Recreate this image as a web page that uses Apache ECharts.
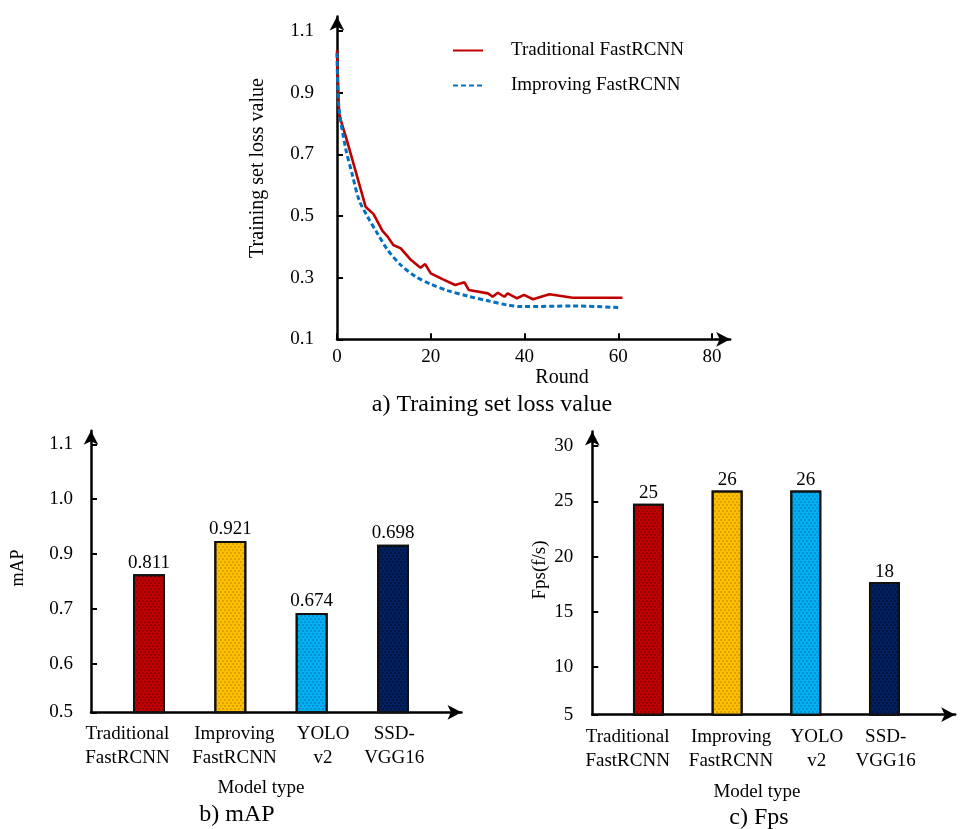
<!DOCTYPE html>
<html><head><meta charset="utf-8">
<script src="https://cdn.jsdelivr.net/npm/echarts@6/dist/echarts.min.js"></script>
<style>html,body{margin:0;padding:0;background:#fff}#c{width:976px;height:829px}</style>
</head><body><div id="c"></div>
<script>
// ---- a) Training set loss value ----
const seriesNames = ['Traditional FastRCNN', 'Improving FastRCNN'];
const tradRound = [0, 0.43, 0.8, 2.1, 6.1, 7.8, 9.7, 10.8, 12.0, 13.6, 15.8, 17.8, 18.8, 20.0, 22.5, 25.2, 27.2, 28.1, 32.2, 33.2, 34.3, 35.7, 36.4, 38.4, 39.9, 41.8, 45.3, 50.3, 60.9];
const tradLoss  = [1.038, 0.833, 0.811, 0.746, 0.530, 0.506, 0.452, 0.433, 0.406, 0.395, 0.357, 0.332, 0.344, 0.314, 0.295, 0.276, 0.285, 0.260, 0.249, 0.238, 0.251, 0.238, 0.249, 0.233, 0.244, 0.230, 0.246, 0.235, 0.235];
const impRound  = [0, 0.4, 1.8, 3.3, 4.7, 6.5, 8.6, 10.8, 13.6, 16.8, 20.0, 23.6, 27.9, 32.2, 36.4, 39.3, 50.3, 60.3];
const impLoss   = [1.028, 0.854, 0.722, 0.632, 0.552, 0.498, 0.444, 0.390, 0.341, 0.303, 0.279, 0.258, 0.240, 0.225, 0.211, 0.206, 0.208, 0.203];
const lossXTicks = [0, 20, 40, 60, 80];
const lossYTicks = [0.1, 0.3, 0.5, 0.7, 0.9, 1.1];

// ---- b) mAP and c) Fps ----
const models = ['Traditional\nFastRCNN', 'Improving\nFastRCNN', 'YOLO\nv2', 'SSD-\nVGG16'];
const mapBarValues = [0.827, 0.924, 0.693, 0.917];     // bar heights read on the drawn axis
const mapBarLabels = ['0.811', '0.921', '0.674', '0.698']; // printed labels
const mapTicks = [0.5, 0.6, 0.7, 0.9, 1.0, 1.1];        // tick labels (evenly spaced)
const fpsValues = [24.8, 26.0, 26.0, 17.7];
const fpsTicks = [5, 10, 15, 20, 25, 30];

// ---- styles ----
const FONT = 'Liberation Serif, "Times New Roman", serif';
const barColors = ['#c00000', '#ffc000', '#00b0f0', '#002060'];
const dotColors = ['rgba(90,0,0,0.55)', 'rgba(170,110,0,0.5)', 'rgba(0,90,160,0.45)', 'rgba(0,0,20,0.5)'];
const labelShift = [-0.265, 0.05, 0.14, 0.015];

// mAP axis is drawn with evenly spaced tick labels; map a value onto tick-index units
function mapToIdx(v) {
  for (let i = 0; i < mapTicks.length - 1; i++) {
    if (v <= mapTicks[i + 1]) return i + (v - mapTicks[i]) / (mapTicks[i + 1] - mapTicks[i]);
  }
  return mapTicks.length - 1;
}

const axisLineStyle = { color: '#000', width: 2.5 };
const arrow = { show: true, onZero: false, symbol: ['none', 'arrow'], symbolSize: [11, 14], lineStyle: axisLineStyle };
const tickStyle = { show: true, inside: true, length: 6, lineStyle: { color: '#000', width: 2 } };
const lab = { fontFamily: FONT, fontSize: 19, color: '#000' };

function decal(i) {
  return { symbol: 'circle', symbolSize: 1, dashArrayX: [[2, 2], [0, 2, 2, 0]], dashArrayY: [2, 1], color: dotColors[i], rotation: 0 };
}

const MAP_MIN = 0.12, MAP_MAX = 5.246;
const FPS_MIN = 5.70, FPS_MAX = 31.33;

const option = {
  backgroundColor: '#fff',
  animation: false,
  grid: [
    { left: 337, top: 16.5, width: 393.2, height: 322.8 },
    { left: 91, top: 430.8, width: 370.5, height: 281.5 },
    { left: 592.3, top: 431.5, width: 362.9, height: 283.2 }
  ],
  legend: {
    left: 447, top: 36, orient: 'vertical', itemWidth: 30, itemHeight: 20, itemGap: 16,
    data: seriesNames,
    itemStyle: { opacity: 0 },
    textStyle: Object.assign({}, lab, { padding: [0, 0, 0, 23] })
  },
  xAxis: [
    { gridIndex: 0, type: 'value', min: 0, max: 83.88, axisLine: arrow, axisTick: Object.assign({}, tickStyle, { customValues: lossXTicks }),
      axisLabel: Object.assign({}, lab, { margin: 8, customValues: lossXTicks }), splitLine: { show: false } },
    { gridIndex: 1, type: 'value', min: -0.713, max: 3.842, axisLine: arrow, axisTick: { show: false },
      axisLabel: Object.assign({}, lab, { margin: 10, lineHeight: 24, customValues: models.map((m, i) => i + labelShift[i]),
        formatter: v => models[Math.round(v)] }), splitLine: { show: false } },
    { gridIndex: 2, type: 'value', min: -0.714, max: 3.899, axisLine: arrow, axisTick: { show: false },
      axisLabel: Object.assign({}, lab, { margin: 10, lineHeight: 24, customValues: models.map((m, i) => i + labelShift[i]),
        formatter: v => models[Math.round(v)] }), splitLine: { show: false } }
  ],
  yAxis: [
    { gridIndex: 0, type: 'value', min: 0.1, max: 1.147, axisLine: arrow, axisTick: Object.assign({}, tickStyle, { customValues: lossYTicks }),
      axisLabel: Object.assign({}, lab, { margin: 23, customValues: lossYTicks, formatter: v => v.toFixed(1) }), splitLine: { show: false } },
    { gridIndex: 1, type: 'value', min: MAP_MIN, max: MAP_MAX, axisLine: arrow,
      axisTick: Object.assign({}, tickStyle, { customValues: [MAP_MIN, 1, 2, 3, 4, 5] }),
      axisLabel: Object.assign({}, lab, { margin: 18, customValues: [MAP_MIN, 1, 2, 3, 4, 5], formatter: v => mapTicks[Math.round(v)].toFixed(1) }),
      splitLine: { show: false } },
    { gridIndex: 2, type: 'value', min: FPS_MIN, max: FPS_MAX, axisLine: arrow,
      axisTick: Object.assign({}, tickStyle, { customValues: [FPS_MIN].concat(fpsTicks.slice(1)) }),
      axisLabel: Object.assign({}, lab, { margin: 19, customValues: [FPS_MIN].concat(fpsTicks.slice(1)),
        formatter: v => String(v < fpsTicks[1] ? fpsTicks[0] : Math.round(v)) }),
      splitLine: { show: false } }
  ],
  series: [
    { name: seriesNames[0], type: 'line', xAxisIndex: 0, yAxisIndex: 0, symbol: 'none',
      lineStyle: { color: '#c00000', width: 2.6 }, itemStyle: { color: '#c00000' },
      data: tradRound.map((x, i) => [x, tradLoss[i]]) },
    { name: seriesNames[1], type: 'line', xAxisIndex: 0, yAxisIndex: 0, symbol: 'none', smooth: 0.3,
      lineStyle: { color: '#0070c0', width: 3, type: [5, 3] }, itemStyle: { color: '#0070c0' },
      data: impRound.map((x, i) => [x, impLoss[i]]) },
    { type: 'bar', xAxisIndex: 1, yAxisIndex: 1, barWidth: 32,
      label: Object.assign({}, lab, { show: true, position: 'top', distance: 2, formatter: p => mapBarLabels[p.dataIndex] }),
      data: mapBarValues.map((v, i) => ({ value: [i, mapToIdx(v)],
        itemStyle: { color: barColors[i], borderColor: '#111', borderWidth: 2, decal: decal(i) } })) },
    { type: 'bar', xAxisIndex: 2, yAxisIndex: 2, barWidth: 31,
      label: Object.assign({}, lab, { show: true, position: 'top', distance: 1, formatter: p => String(Math.round(fpsValues[p.dataIndex])) }),
      data: fpsValues.map((v, i) => ({ value: [i, v],
        itemStyle: { color: barColors[i], borderColor: '#111', borderWidth: 2, decal: decal(i) } })) }
  ],
  graphic: [
    { type: 'text', x: 258, y: 168, rotation: Math.PI / 2, style: { text: 'Training set loss value', align: 'center', verticalAlign: 'middle', font: '20px ' + FONT, fill: '#000' } },
    { type: 'text', x: 562, y: 378, style: { text: 'Round', align: 'center', verticalAlign: 'middle', font: '20px ' + FONT, fill: '#000' } },
    { type: 'text', x: 492, y: 405, style: { text: 'a) Training set loss value', align: 'center', verticalAlign: 'middle', font: '24px ' + FONT, fill: '#000' } },
    { type: 'text', x: 18, y: 568, rotation: Math.PI / 2, style: { text: 'mAP', align: 'center', verticalAlign: 'middle', font: '18px ' + FONT, fill: '#000' } },
    { type: 'text', x: 261, y: 788, style: { text: 'Model type', align: 'center', verticalAlign: 'middle', font: '19px ' + FONT, fill: '#000' } },
    { type: 'text', x: 237, y: 815, style: { text: 'b) mAP', align: 'center', verticalAlign: 'middle', font: '24px ' + FONT, fill: '#000' } },
    { type: 'text', x: 540, y: 570, rotation: Math.PI / 2, style: { text: 'Fps(f/s)', align: 'center', verticalAlign: 'middle', font: '19px ' + FONT, fill: '#000' } },
    { type: 'text', x: 757, y: 792, style: { text: 'Model type', align: 'center', verticalAlign: 'middle', font: '19px ' + FONT, fill: '#000' } },
    { type: 'text', x: 759, y: 818, style: { text: 'c) Fps', align: 'center', verticalAlign: 'middle', font: '24px ' + FONT, fill: '#000' } }
  ]
};
echarts.init(document.getElementById('c'), null, { renderer: 'canvas' }).setOption(option);
</script>
</body></html>
